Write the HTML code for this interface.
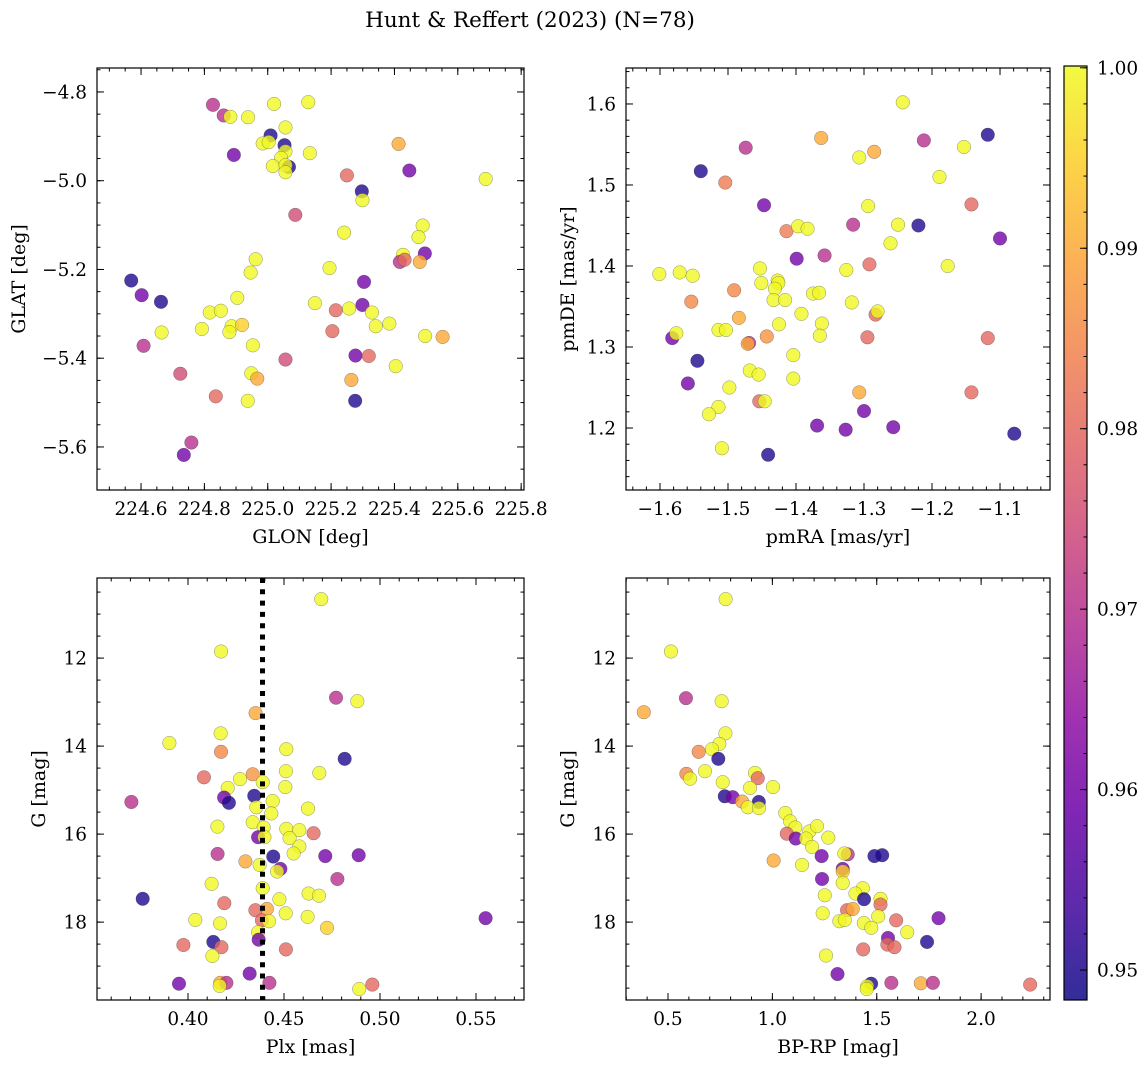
<!DOCTYPE html>
<html><head><meta charset="utf-8"><style>
html,body{margin:0;padding:0;background:#fff;}
svg{display:block;font-family:"DejaVu Serif","Liberation Serif",serif;}
</style></head><body>
<svg id="fig" width="1148" height="1067" viewBox="0 0 1148 1067" xmlns="http://www.w3.org/2000/svg">
<rect width="1148" height="1067" fill="#fff"/>
<text x="530" y="27" font-size="21.5" text-anchor="middle">Hunt &amp; Reffert (2023) (N=78)</text>
</svg>
<script>
// ---------- data ----------
const tlGlon=[224.827,224.861,224.882,224.938,225.020,225.128,225.009,225.056,224.984,225.003,225.053,225.056,224.893,225.133,225.042,225.016,225.067,225.056,225.056,225.413,225.447,225.250,225.688,225.297,225.299,225.087,225.241,225.489,225.476,225.496,225.427,225.417,225.432,225.480,224.962,224.946,225.195,224.569,224.602,224.663,224.904,225.304,224.817,224.852,225.149,225.215,225.257,225.299,225.329,224.665,224.792,224.886,224.879,224.919,225.341,225.384,225.204,225.497,225.552,224.608,224.953,225.056,225.277,225.319,225.404,224.724,224.948,224.967,225.264,224.836,224.937,225.276,224.759,224.735];
const tlGlat=[-4.829,-4.853,-4.856,-4.857,-4.827,-4.823,-4.898,-4.880,-4.916,-4.913,-4.920,-4.934,-4.942,-4.938,-4.949,-4.967,-4.969,-4.965,-4.981,-4.917,-4.977,-4.988,-4.996,-5.024,-5.044,-5.077,-5.117,-5.101,-5.127,-5.164,-5.167,-5.183,-5.178,-5.183,-5.177,-5.207,-5.197,-5.225,-5.258,-5.273,-5.264,-5.228,-5.297,-5.293,-5.276,-5.292,-5.288,-5.280,-5.297,-5.342,-5.334,-5.328,-5.341,-5.325,-5.328,-5.322,-5.339,-5.350,-5.352,-5.372,-5.371,-5.403,-5.394,-5.395,-5.418,-5.435,-5.434,-5.446,-5.449,-5.486,-5.496,-5.496,-5.590,-5.618];
const tlProb=[.97,.97,1,1,1,1,.95,1,1,1,.95,1,.96,1,1,1,.95,1,1,.99,.96,.98,1,.95,1,.975,1,1,1,.96,1,.97,.98,.99,1,1,1,.95,.96,.95,1,.96,1,1,1,.98,1,.96,1,1,1,1,1,.995,1,1,.98,1,.99,.97,1,.975,.96,.98,1,.975,1,.99,.99,.98,1,.95,.97,.96];

const trPmra=[-1.243,-1.118,-1.212,-1.153,-1.363,-1.474,-1.307,-1.285,-1.540,-1.504,-1.189,-1.447,-1.294,-1.142,-1.316,-1.250,-1.220,-1.414,-1.397,-1.383,-1.261,-1.100,-1.399,-1.358,-1.292,-1.177,-1.326,-1.601,-1.571,-1.552,-1.453,-1.451,-1.427,-1.426,-1.431,-1.433,-1.416,-1.491,-1.554,-1.375,-1.366,-1.318,-1.392,-1.283,-1.280,-1.484,-1.425,-1.362,-1.582,-1.576,-1.514,-1.503,-1.469,-1.471,-1.443,-1.365,-1.295,-1.118,-1.545,-1.404,-1.468,-1.455,-1.404,-1.559,-1.498,-1.307,-1.142,-1.454,-1.446,-1.514,-1.528,-1.300,-1.369,-1.327,-1.257,-1.079,-1.509,-1.441];
const trPmde=[1.602,1.562,1.555,1.547,1.558,1.546,1.534,1.541,1.517,1.503,1.510,1.475,1.474,1.476,1.451,1.451,1.450,1.443,1.449,1.446,1.428,1.434,1.409,1.413,1.402,1.400,1.395,1.390,1.392,1.388,1.397,1.379,1.382,1.379,1.372,1.358,1.358,1.370,1.356,1.366,1.367,1.355,1.341,1.340,1.344,1.336,1.328,1.329,1.311,1.317,1.321,1.321,1.305,1.304,1.313,1.314,1.312,1.311,1.283,1.290,1.271,1.266,1.261,1.255,1.250,1.244,1.244,1.233,1.233,1.226,1.217,1.221,1.203,1.198,1.201,1.193,1.175,1.167];
const trProb=[1,.95,.97,1,.99,.97,1,.99,.95,.983,1,.96,1,.98,.97,1,.95,.983,1,1,1,.96,.96,.97,.98,1,1,1,1,1,1,1,1,1,1,1,1,.985,.985,1,1,1,1,.98,1,.99,1,1,.96,1,1,1,.97,.99,.987,1,.98,.98,.95,1,1,1,1,.96,1,.99,.98,.98,1,1,1,.96,.96,.96,.96,.95,1,.95];

const blPlx=[0.4694,0.4172,0.4771,0.4882,0.4352,0.4170,0.3903,0.4172,0.4512,0.4816,0.4510,0.4684,0.4083,0.4337,0.4271,0.4389,0.4507,0.4207,0.4188,0.4213,0.4345,0.3705,0.4441,0.4356,0.4434,0.4625,0.4337,0.4153,0.4394,0.4512,0.4580,0.4654,0.4365,0.4398,0.4529,0.4580,0.4550,0.4154,0.4444,0.4715,0.4889,0.4299,0.4373,0.4481,0.4464,0.4778,0.4123,0.4389,0.4628,0.4682,0.3764,0.4476,0.4189,0.4411,0.4351,0.4509,0.4623,0.4385,0.4422,0.4038,0.4167,0.5550,0.4724,0.4365,0.4368,0.4132,0.4174,0.3976,0.4127,0.4510,0.4321,0.3953,0.4168,0.4200,0.4165,0.4424,0.4892,0.4960];
const blG=[10.66,11.85,12.90,12.98,13.25,13.71,13.93,14.13,14.07,14.29,14.57,14.61,14.71,14.64,14.75,14.82,14.93,14.95,15.17,15.29,15.13,15.27,15.25,15.39,15.53,15.42,15.73,15.83,15.85,15.88,15.91,15.98,16.07,16.07,16.09,16.28,16.44,16.45,16.51,16.50,16.48,16.62,16.70,16.79,16.85,17.02,17.13,17.23,17.35,17.40,17.47,17.48,17.57,17.70,17.73,17.80,17.88,17.96,17.98,17.95,18.03,17.91,18.13,18.23,18.40,18.45,18.57,18.52,18.77,18.62,19.17,19.40,19.38,19.38,19.45,19.38,19.52,19.42];
const blProb=[1,1,.97,1,.99,1,1,.985,1,.95,1,1,.98,.987,1,1,1,1,.96,.95,.95,.97,1,1,1,1,1,1,1,1,1,.98,.96,1,1,1,1,.97,.95,.96,.96,.99,1,.96,1,.97,1,1,1,1,.95,1,.98,.99,.98,1,1,.98,1,1,1,.96,.995,1,.96,.95,.98,.98,1,.98,.96,.96,.99,.97,1,.97,1,.98];
const plxRef=0.4388;

const brBprp=[0.776,0.514,0.586,0.757,0.384,0.775,0.746,0.711,0.647,0.741,0.677,0.588,0.606,0.917,0.930,0.762,0.893,1.003,0.772,0.810,0.855,0.935,0.882,0.936,1.062,1.085,1.110,1.069,1.112,1.177,1.214,1.161,1.268,1.190,1.236,1.361,1.345,1.489,1.526,1.006,1.142,1.337,1.337,1.238,1.337,1.433,1.398,1.439,1.518,1.518,1.251,1.358,1.385,1.241,1.321,1.347,1.438,1.507,1.593,1.796,1.474,1.646,1.554,1.551,1.585,1.741,1.435,1.257,1.312,1.473,1.454,1.452,1.570,1.711,1.769,2.235];
const brG=[10.66,11.85,12.91,12.98,13.23,13.71,13.95,14.07,14.13,14.29,14.57,14.63,14.74,14.61,14.73,14.82,14.95,14.93,15.14,15.16,15.26,15.27,15.39,15.41,15.52,15.71,15.85,15.99,16.10,15.94,15.82,16.10,16.08,16.29,16.50,16.46,16.44,16.50,16.48,16.60,16.70,16.79,16.85,17.02,17.11,17.23,17.35,17.48,17.47,17.60,17.39,17.73,17.70,17.80,17.98,17.95,18.02,17.87,17.96,17.91,18.13,18.23,18.36,18.51,18.57,18.45,18.62,18.76,19.18,19.40,19.46,19.52,19.38,19.39,19.38,19.42];
const brProb=[1,1,.97,1,.99,1,1,1,.985,.95,1,.985,1,1,.98,1,1,1,.95,.96,.99,.95,1,1,1,1,1,.98,.96,1,1,1,1,1,.96,.97,1,.95,.95,.99,1,.96,.995,.96,1,1,1,.95,1,.98,1,.98,.99,1,1,1,1,1,.98,.96,1,1,.96,.98,.98,.95,.98,1,.96,.95,1,1,.97,.99,.97,.98];

const tlXTicks=[224.6,224.8,225.0,225.2,225.4,225.6,225.8];
const tlYTicks=[-4.8,-5.0,-5.2,-5.4,-5.6];
const trXTicks=[-1.6,-1.5,-1.4,-1.3,-1.2,-1.1];
const trYTicks=[1.2,1.3,1.4,1.5,1.6];
const blXTicks=[0.40,0.45,0.50,0.55];
const gTicks=[12,14,16,18];
const brXTicks=[0.5,1.0,1.5,2.0];
const cbTicks=[0.95,0.96,0.97,0.98,0.99,1.00];

// ---------- helpers ----------
const NS="http://www.w3.org/2000/svg";
const svg=document.getElementById('fig');
const TF=18.5, LF=19;
function mk(tag,attrs,parent){const e=document.createElementNS(NS,tag);for(const k in attrs)e.setAttribute(k,attrs[k]);(parent||svg).appendChild(e);return e;}
const plasma=[[13,8,135],[65,4,157],[106,0,168],[143,13,164],[177,42,144],[204,71,120],[225,100,98],[242,132,75],[252,166,54],[252,206,37],[240,249,33]];
const cMin=0.94834,cMax=1.0001;
function cmap(v){let t=(v-cMin)/(cMax-cMin);t=Math.max(0,Math.min(1,t));const s=t*10,i=Math.min(9,Math.floor(s)),f=s-i;const a=plasma[i],b=plasma[i+1];return 'rgb('+[0,1,2].map(k=>Math.round(a[k]+(b[k]-a[k])*f)).join(',')+')';}
function lin(d0,d1,r0,r1){return v=>r0+(v-d0)/(d1-d0)*(r1-r0);}
function fmt(v,dec){return (v<0?'\u2212':'')+Math.abs(v).toFixed(dec);}

function panel(o){
  const g=mk('g',{});
  
  
  const X=lin(o.xd[0],o.xd[1],o.x0,o.x1), Y=lin(o.yd[0],o.yd[1],o.y1,o.y0);
  function ticks(vals,len,isX,cls,lab){
    vals.forEach(v=>{
      if(isX){const px=X(v);if(px<o.x0-0.5||px>o.x1+0.5)return;
        const t1=mk('line',{x1:px,x2:px,y1:o.y1,y2:o.y1-len,stroke:'#000','stroke-width':1},g);
        
        mk('line',{x1:px,x2:px,y1:o.y0,y2:o.y0+len,stroke:'#000','stroke-width':1},g);
        if(lab){const t=mk('text',{x:px,y:o.y1+25,'font-size':TF,'text-anchor':'middle'},g);t.textContent=fmt(v,o.xdec);
          }
      }else{const py=Y(v);if(py<o.y0-0.5||py>o.y1+0.5)return;
        const t1=mk('line',{x1:o.x0,x2:o.x0+len,y1:py,y2:py,stroke:'#000','stroke-width':1},g);
        
        mk('line',{x1:o.x1,x2:o.x1-len,y1:py,y2:py,stroke:'#000','stroke-width':1},g);
        if(lab){const t=mk('text',{x:o.x0-10,y:py+6.5,'font-size':TF,'text-anchor':'end'},g);t.textContent=fmt(v,o.ydec);
          }
      }
    });
  }
  function range(a,b,s){const r=[];const n=Math.round((b-a)/s);for(let i=0;i<=n;i++)r.push(a+i*s);return r;}
  ticks(range(o.xm[0],o.xm[1],o.xm[2]),3.5,true,'x-minor-tick',false);
  ticks(range(o.ym[0],o.ym[1],o.ym[2]),3.5,false,'y-minor-tick',false);
  ticks(o.xt,7,true,'x-major-tick',true);
  ticks(o.yt,7,false,'y-major-tick',true);
  const pts=mk('g',{},g);
  
  o.xs.forEach((xv,i)=>{
    const c=mk('circle',{cx:X(xv),cy:Y(o.ys[i]),r:6.8,fill:cmap(o.cs[i]),'fill-opacity':0.8,stroke:'#3a3a3a','stroke-opacity':0.55,'stroke-width':0.5},pts);
    
    
  });
  if(o.vline!==undefined){const l=mk('line',{x1:X(o.vline),x2:X(o.vline),y1:o.y0,y2:o.y1,stroke:'#000','stroke-width':5,'stroke-dasharray':'5,6.3'},g);
    }
  const fr=mk('rect',{x:o.x0,y:o.y0,width:o.x1-o.x0,height:o.y1-o.y0,fill:'none',stroke:'#000','stroke-width':1.2},g);
  
  const xl=mk('text',{x:(o.x0+o.x1)/2,y:o.y1+53,'font-size':LF,'text-anchor':'middle'},g);xl.textContent=o.xlab;
  
  const yx=o.x0-o.ylx,yy=(o.y0+o.y1)/2;
  const yl=mk('text',{x:yx,y:yy,'font-size':LF,'text-anchor':'middle',transform:'rotate(-90 '+yx+' '+yy+')'},g);yl.textContent=o.ylab;
  
}

panel({name:'panel-sky-position',x0:97,x1:524,y0:68,y1:490,xd:[224.461,225.809],yd:[-5.697,-4.746],
  xt:tlXTicks,yt:tlYTicks,xm:[224.5,225.8,0.05],ym:[-5.7,-4.75,0.05],xdec:1,ydec:1,
  xs:tlGlon,ys:tlGlat,cs:tlProb,xlab:'GLON [deg]',ylab:'GLAT [deg]',ylx:72});
panel({name:'panel-proper-motion',x0:626,x1:1050,y0:68,y1:490,xd:[-1.65,-1.0265],yd:[1.1235,1.6444],
  xt:trXTicks,yt:trYTicks,xm:[-1.64,-1.04,0.02],ym:[1.14,1.64,0.02],xdec:1,ydec:1,
  xs:trPmra,ys:trPmde,cs:trProb,xlab:'pmRA [mas/yr]',ylab:'pmDE [mas/yr]',ylx:52});
panel({name:'panel-parallax-magnitude',x0:97,x1:524,y0:578,y1:1000,xd:[0.3526,0.575],yd:[19.77,10.18],
  xt:blXTicks,yt:gTicks,xm:[0.36,0.57,0.01],ym:[10.5,19.5,0.5],xdec:2,ydec:0,vline:plxRef,
  xs:blPlx,ys:blG,cs:blProb,xlab:'Plx [mas]',ylab:'G [mag]',ylx:52});
panel({name:'panel-color-magnitude',x0:626,x1:1050,y0:578,y1:1000,xd:[0.2988,2.33],yd:[19.77,10.18],
  xt:brXTicks,yt:gTicks,xm:[0.3,2.3,0.1],ym:[10.5,19.5,0.5],xdec:1,ydec:0,
  xs:brBprp,ys:brG,cs:brProb,xlab:'BP-RP [mag]',ylab:'G [mag]',ylx:52});

// colorbar
(function(){
  const cx0=1064,cx1=1087,cy0=66,cy1=1000;
  const defs=mk('defs',{});
  const grad=mk('linearGradient',{id:'cbg',x1:0,y1:1,x2:0,y2:0},defs);
  for(let i=0;i<=20;i++){const t=i/20;mk('stop',{offset:t,'stop-color':cmap(cMin+t*(cMax-cMin)),'stop-opacity':0.85},grad);}
  const g=mk('g',{});
  
  
  const r=mk('rect',{x:cx0,y:cy0,width:cx1-cx0,height:cy1-cy0,fill:'url(#cbg)',stroke:'#000','stroke-width':1.2},g);
  
  const Y=lin(cMin,cMax,cy1,cy0);
  for(let v=0.95;v<=1.0001;v+=0.002){const py=Y(v);mk('line',{x1:cx1,x2:cx1-3.5,y1:py,y2:py,stroke:'#000','stroke-width':1},g);}
  cbTicks.forEach(v=>{const py=Y(v);mk('line',{x1:cx1,x2:cx1-7,y1:py,y2:py,stroke:'#000','stroke-width':1},g);
    const t=mk('text',{x:cx1+10,y:py+6.5,'font-size':TF},g);t.textContent=v.toFixed(2);
    
    });
})();
</script>
</body></html>
